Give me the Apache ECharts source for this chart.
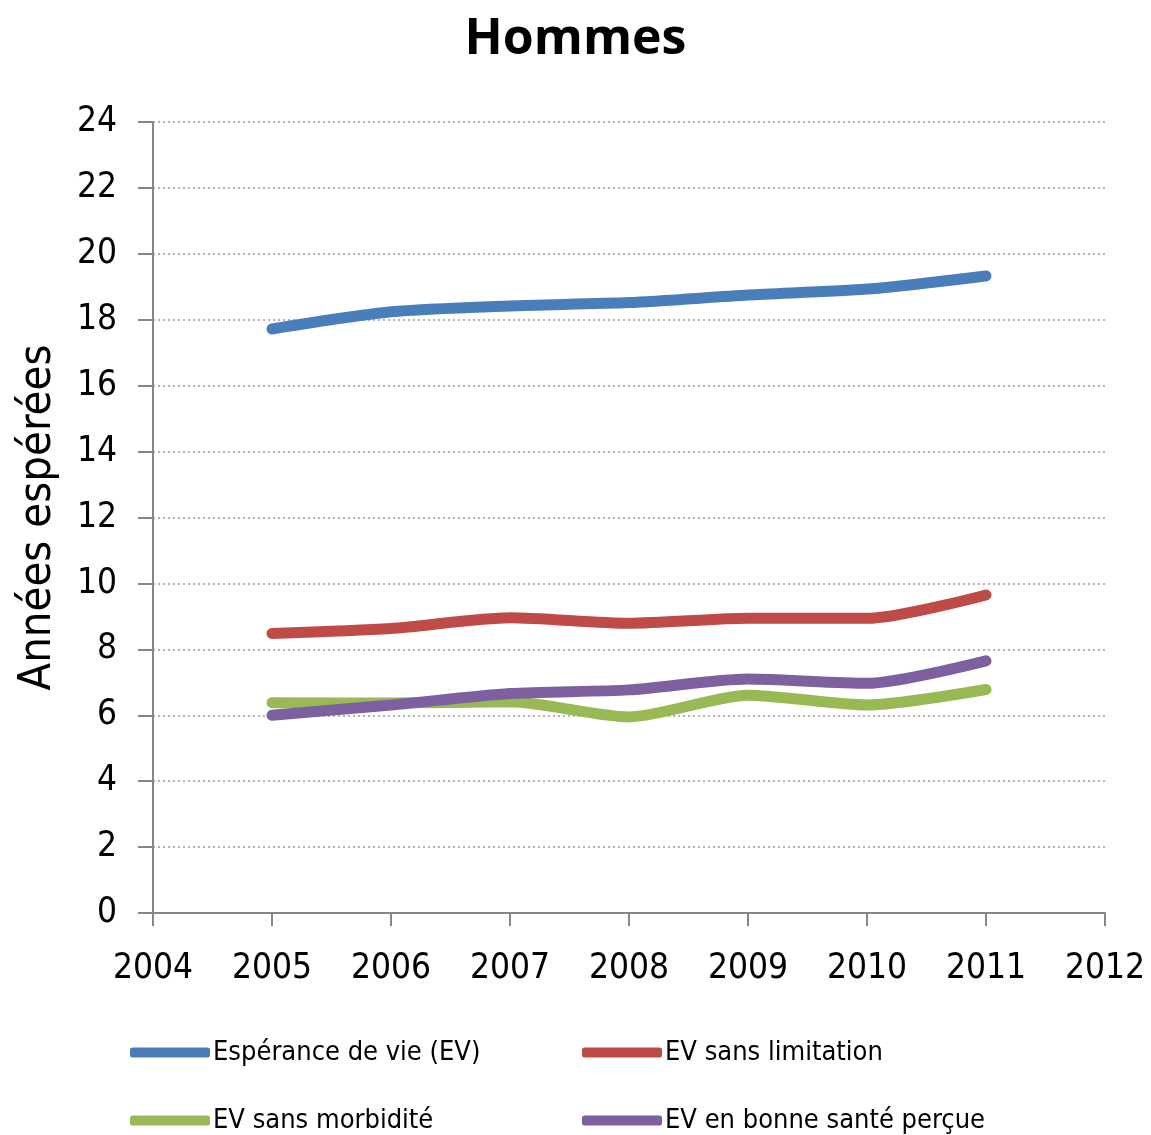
<!DOCTYPE html>
<html>
<head>
<meta charset="utf-8">
<script src="https://cdn.jsdelivr.net/npm/echarts@6/dist/echarts.min.js"></script>
<style>
  html, body { margin: 0; padding: 0; background: #fff; }
  #chart { width: 1151px; height: 1135px; }
</style>
</head>
<body>
<div id="chart"></div>
<script>
// Espérance de vie et indicateurs de santé, hommes
const years = [2005, 2006, 2007, 2008, 2009, 2010, 2011];
const esperanceVie = [17.72, 18.24, 18.42, 18.52, 18.75, 18.93, 19.33];
const evSansLimitation = [8.48, 8.63, 8.96, 8.79, 8.94, 8.94, 9.65];
const evSansMorbidite = [6.38, 6.37, 6.41, 5.95, 6.61, 6.31, 6.78];
const evBonneSante = [6.00, 6.31, 6.66, 6.77, 7.10, 6.97, 7.65];

const seriesNames = ['Espérance de vie (EV)', 'EV sans limitation', 'EV sans morbidité', 'EV en bonne santé perçue'];
const seriesColors = ['#4A7EBB', '#BE4B48', '#98B954', '#7D60A0'];
const seriesValues = [esperanceVie, evSansLimitation, evSansMorbidite, evBonneSante];

const FONT = '"Liberation Sans Narrow", "DejaVu Sans Condensed", "Open Sans", sans-serif';

const chart = echarts.init(document.getElementById('chart'));

const legendPos = [
  { left: 125, top: 1034 },
  { left: 577, top: 1034 },
  { left: 125, top: 1102 },
  { left: 577, top: 1102 }
];

chart.setOption({
  animation: false,
  backgroundColor: '#ffffff',
  title: {
    text: 'Hommes',
    left: 'center',
    top: 10,
    textStyle: { fontFamily: '"Open Sans", sans-serif', fontSize: 50, fontWeight: 'bold', color: '#000' }
  },
  legend: seriesNames.map((name, i) => ({
    data: [name],
    left: legendPos[i].left,
    top: legendPos[i].top,
    icon: 'roundRect',
    itemWidth: 80,
    itemHeight: 10,
    itemGap: 0,
    textStyle: { fontFamily: FONT, fontSize: 27, color: '#000', padding: [0, 0, 0, -2] }
  })),
  grid: { left: 153, right: 46, top: 122, bottom: 222 },
  xAxis: {
    type: 'value',
    min: 2004,
    max: 2012,
    interval: 1,
    axisLine: { lineStyle: { color: '#868686', width: 2 } },
    axisTick: { show: true, length: 13, lineStyle: { color: '#868686', width: 2 } },
    axisLabel: { fontFamily: FONT, fontSize: 35, color: '#000', margin: 38, formatter: (v) => String(v) },
    splitLine: { show: false }
  },
  yAxis: {
    type: 'value',
    min: 0,
    max: 24,
    interval: 2,
    name: 'Années espérées',
    nameLocation: 'middle',
    nameGap: 92,
    nameTextStyle: { fontFamily: FONT, fontSize: 45, color: '#000' },
    axisLine: { show: true, lineStyle: { color: '#868686', width: 2 } },
    axisTick: { show: true, length: 15, lineStyle: { color: '#868686', width: 2 } },
    axisLabel: { fontFamily: FONT, fontSize: 35, color: '#000', margin: 36 },
    splitLine: { show: true, lineStyle: { color: '#9a9a9a', width: 1.5, type: [2, 3] } }
  },
  series: seriesNames.map((name, i) => ({
    name: name,
    type: 'line',
    data: years.map((y, k) => [y, seriesValues[i][k]]),
    smooth: 0.25,
    showSymbol: false,
    symbol: 'none',
    color: seriesColors[i],
    lineStyle: { width: 11, color: seriesColors[i], cap: 'round' }
  }))
});
</script>
</body>
</html>
